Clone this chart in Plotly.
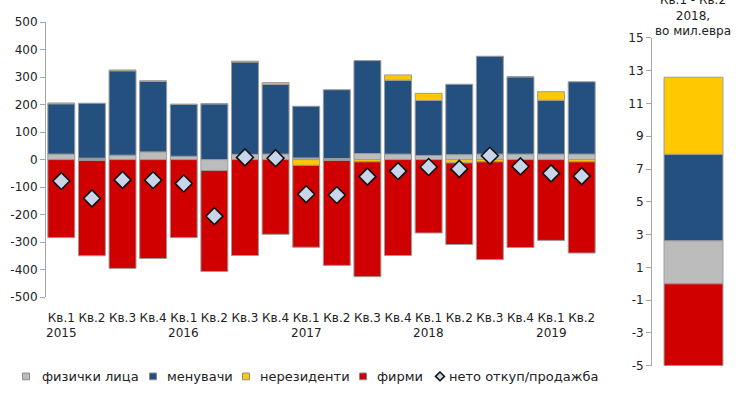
import plotly.graph_objects as go

# Quarterly structure of currency exchange (left) and cumulative total (right)
quarters = ["Кв.1", "Кв.2", "Кв.3", "Кв.4",
            "Кв.1", "Кв.2", "Кв.3", "Кв.4",
            "Кв.1", "Кв.2", "Кв.3", "Кв.4",
            "Кв.1", "Кв.2", "Кв.3", "Кв.4",
            "Кв.1", "Кв.2"]
years = ["2015", "", "", "", "2016", "", "", "", "2017", "", "", "",
         "2018", "", "", "", "2019", ""]

individuals = [20, 5, 16, 28, 12, -40, 19, 20, 6, 4, 22, 20, 15, 18, 20, 20, 20, 20]
exchange_offices = [183, 200, 307, 256, 189, 203, 336, 254, 188, 250, 338, 269,
                    200, 256, 356, 281, 196, 263]
non_residents = [3, -3, 3, 3, 0, 0, 3, 6, -21, -3, -8, 19, 26, -12, -8, 0, 31, -8]
companies = [-284, -347, -396, -360, -284, -367, -349, -272, -298, -382, -418, -349,
             -267, -297, -356, -320, -294, -332]
net_purchase = [-78, -141, -74, -75, -87, -206, 8, 5, -126, -129, -62, -42,
                -27, -34, 14, -25, -50, -60]

left_ticks = list(range(-500, 501, 100))

# Right panel: period total, in million euro
total_individuals = 2.63
total_exchange_offices = 5.27
total_non_residents = 4.7
total_companies = -5.0

right_ticks = list(range(-5, 16, 2))

names = ["физички лица", "менувачи", "нерезиденти", "фирми"]
net_name = "нето откуп/продажба"
colors = ["#bcbcbc", "#24507f", "#ffc800", "#d00000"]
left_series = [individuals, exchange_offices, non_residents, companies]
right_series = [total_individuals, total_exchange_offices, total_non_residents, total_companies]

x_pos = list(range(len(quarters)))

FONT = "DejaVu Sans"
TXT = "#222222"
AXIS = "#a6a6a6"
edge = dict(color="#9c9c9c", width=1)
W, H = 739, 394

fig = go.Figure()

for name, color, vals in zip(names, colors, left_series):
    fig.add_trace(go.Bar(
        x=x_pos, y=vals, name=name, marker=dict(color=color, line=edge),
        xaxis="x", yaxis="y", showlegend=False,
    ))

fig.add_trace(go.Scatter(
    x=x_pos, y=net_purchase, name=net_name, mode="markers",
    marker=dict(symbol="diamond", size=13, color="#c9d5ea",
                line=dict(color="#111111", width=1.6)),
    xaxis="x", yaxis="y", showlegend=False,
))

for name, color, val in zip(names, colors, right_series):
    fig.add_trace(go.Bar(
        x=[0], y=[val], name=name, width=0.71, showlegend=False,
        marker=dict(color=color, line=edge),
        xaxis="x2", yaxis="y2",
    ))

fig.update_layout(
    width=W, height=H,
    margin=dict(l=0, r=0, t=0, b=0),
    paper_bgcolor="white", plot_bgcolor="white",
    barmode="relative", bargap=0.12,
    font=dict(family=FONT, size=12, color=TXT),
    xaxis=dict(
        domain=[46 / W, 597 / W], range=[-0.5, 17.5],
        tickvals=x_pos, ticktext=quarters, tickangle=0, ticks="",
        showline=False, showgrid=False, zeroline=False, anchor="y",
        tickfont=dict(size=12), ticklabelstandoff=12,
    ),
    yaxis=dict(
        domain=[1 - 300.7 / H, 1 - 15.7 / H], range=[-500, 500],
        tickvals=left_ticks, ticktext=[str(v) for v in left_ticks],
        ticks="outside", ticklen=5, tickcolor=AXIS,
        showline=True, linecolor=AXIS, linewidth=1,
        showgrid=False, zeroline=False, anchor="x",
        tickfont=dict(size=12),
    ),
    xaxis2=dict(
        domain=[652 / W, 735 / W], range=[-0.5, 0.5],
        showticklabels=False, ticks="", showline=False,
        showgrid=False, zeroline=False, anchor="y2",
    ),
    yaxis2=dict(
        domain=[1 - 372 / H, 1 - 32 / H], range=[-5, 15],
        tickvals=right_ticks, ticktext=[str(v) for v in right_ticks],
        ticks="outside", ticklen=5, tickcolor=AXIS,
        showline=True, linecolor=AXIS, linewidth=1,
        showgrid=False, zeroline=False, anchor="x2",
        tickfont=dict(size=12),
    ),
    showlegend=False,
)

# Year labels under the first quarter of each year
for xp, yr in zip(x_pos, years):
    if yr:
        fig.add_annotation(
            text=yr, xref="x", yref="paper", x=xp, y=1 - 338 / H,
            xanchor="center", yanchor="middle", showarrow=False,
            font=dict(family=FONT, size=12, color=TXT),
        )

# Panel heading above the period total
fig.add_annotation(
    text="Кв.1 - Кв.2<br>2018,<br>во мил.евра",
    xref="paper", yref="paper", x=693 / W, y=1 - 34 / H,
    xanchor="center", yanchor="bottom", showarrow=False,
    font=dict(family=FONT, size=12, color=TXT), align="center",
)

# Compact legend row along the bottom
legend_y = 383
legend_items = [(names[0], colors[0], 26, 40), (names[1], colors[1], 153, 165),
                (names[2], colors[2], 246, 258), (names[3], colors[3], 363, 375)]
for label, color, sx, tx in legend_items:
    fig.add_shape(
        type="rect", xref="paper", yref="paper",
        x0=(sx - 3.5) / W, x1=(sx + 3.5) / W,
        y0=1 - (legend_y + 3.5) / H, y1=1 - (legend_y - 3.5) / H,
        fillcolor=color, line=dict(color="#8c8c8c", width=1),
    )
    fig.add_annotation(
        text=label, xref="paper", yref="paper", x=tx / W, y=1 - legend_y / H,
        xanchor="left", yanchor="middle", showarrow=False,
        font=dict(family=FONT, size=13, color=TXT),
    )

dx, dy = 440, legend_y
fig.add_shape(
    type="path", xref="paper", yref="paper",
    path=(f"M {(dx - 4.5) / W} {1 - dy / H} L {dx / W} {1 - (dy - 4.5) / H} "
          f"L {(dx + 4.5) / W} {1 - dy / H} L {dx / W} {1 - (dy + 4.5) / H} Z"),
    fillcolor="#c9d5ea", line=dict(color="#111111", width=1.5),
)
fig.add_annotation(
    text=net_name, xref="paper", yref="paper", x=447 / W, y=1 - legend_y / H,
    xanchor="left", yanchor="middle", showarrow=False,
    font=dict(family=FONT, size=13, color=TXT),
)

fig.write_html("out.html")
